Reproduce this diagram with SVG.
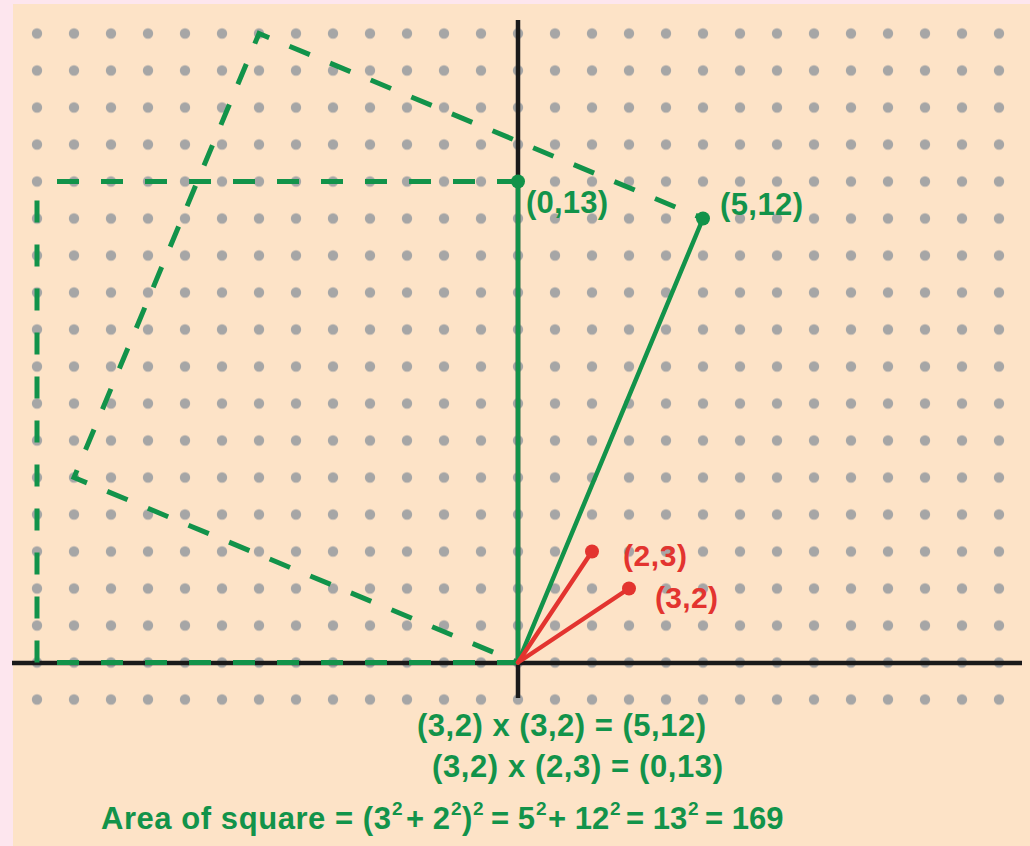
<svg xmlns="http://www.w3.org/2000/svg" width="1030" height="846" viewBox="0 0 1030 846">
<defs>
<style>
.bg{fill:#fde6ee}
.panel{fill:#fde3c7}
.dot{fill:#a6a6a6}
.axis{stroke:#1a1a1a;stroke-width:4.5;fill:none}
.gs{stroke:#12934a;stroke-width:4.5;fill:none;stroke-linecap:round}
.gd{stroke:#12934a;stroke-width:5;fill:none;stroke-dasharray:22 22}
.rs{stroke:#e3342f;stroke-width:4.5;fill:none;stroke-linecap:round}
.gp{fill:#12934a}
.rp{fill:#e3342f}
text{font-family:"Liberation Sans",Arial,sans-serif;font-weight:bold}
.gt{fill:#12934a;font-size:31px}
.rt{fill:#e3342f;font-size:30px}
.sup{font-size:19px}
</style>
<pattern id="dots" x="0" y="-3.5" width="37" height="37" patternUnits="userSpaceOnUse">
<circle class="dot" cx="37" cy="37" r="5.2"/>
<circle class="dot" cx="0" cy="37" r="5.2"/>
<circle class="dot" cx="37" cy="0" r="5.2"/>
<circle class="dot" cx="0" cy="0" r="5.2"/>
</pattern>
</defs>
<rect class="bg" x="0" y="0" width="1030" height="846"/>
<rect class="panel" x="13" y="4" width="1017" height="842"/>
<g id="grid">
<rect x="30" y="27" width="977" height="680" fill="url(#dots)"/>
</g>
<g id="axes">
<line class="axis" x1="12" y1="663" x2="1022" y2="663"/>
<line class="axis" x1="518" y1="20" x2="518" y2="698"/>
</g>
<g id="connectors">
<line class="gd" x1="37" y1="662.5" x2="37" y2="181.5"/>
<line class="gd" x1="37" y1="181.5" x2="518" y2="181.5" stroke-dashoffset="24"/>
<line class="gd" x1="37" y1="662.5" x2="518" y2="662.5" stroke-dashoffset="24"/>
<path class="gd" d="M703,218.5 L259,33.5 L74,477.5 L518,662.5" stroke-dashoffset="14"/>
<line class="gs" x1="518" y1="662.5" x2="518" y2="181.5"/>
<line class="gs" x1="518" y1="662.5" x2="703" y2="218.5"/>
<line class="rs" x1="518" y1="662.5" x2="592" y2="551.5"/>
<line class="rs" x1="518" y1="662.5" x2="629" y2="588.5"/>
</g>
<g id="pt-0-13">
<circle class="gp" cx="518" cy="181.5" r="7"/>
<text class="gt" x="526" y="213" font-size="30" textLength="82" lengthAdjust="spacing">(0,13)</text>
</g>
<g id="pt-5-12">
<circle class="gp" cx="703" cy="218.5" r="7"/>
<text class="gt" x="720" y="215" font-size="30" textLength="83" lengthAdjust="spacing">(5,12)</text>
</g>
<g id="pt-2-3">
<circle class="rp" cx="592" cy="551.5" r="7"/>
<text class="rt" x="623" y="566" textLength="64" lengthAdjust="spacing">(2,3)</text>
</g>
<g id="pt-3-2">
<circle class="rp" cx="629" cy="588.5" r="7"/>
<text class="rt" x="655" y="608" textLength="63" lengthAdjust="spacing">(3,2)</text>
</g>
<g id="equations">
<text class="gt" x="417" y="736" textLength="289" lengthAdjust="spacing">(3,2) x (3,2) = (5,12)</text>
<text class="gt" x="432" y="777" textLength="291" lengthAdjust="spacing">(3,2) x (2,3) = (0,13)</text>
<text class="gt" y="829">
<tspan x="101" textLength="290" lengthAdjust="spacing">Area of square = (3</tspan><tspan class="sup" x="392" y="815">2</tspan><tspan x="406" y="829">+ 2</tspan><tspan class="sup" x="451" y="815">2</tspan><tspan x="462" y="829">)</tspan><tspan class="sup" x="473" y="815">2</tspan><tspan x="491" y="829">= 5</tspan><tspan class="sup" x="536" y="815">2</tspan><tspan x="548" y="829">+ 12</tspan><tspan class="sup" x="610" y="815">2</tspan><tspan x="626" y="829">= 13</tspan><tspan class="sup" x="688" y="815">2</tspan><tspan x="705" y="829">= 169</tspan>
</text>
</g>
</svg>
